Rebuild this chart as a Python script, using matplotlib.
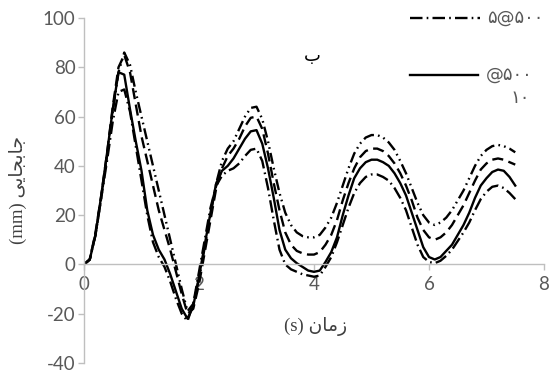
import matplotlib
matplotlib.use("Agg")
import matplotlib.pyplot as plt
from matplotlib.lines import Line2D

plt.rcParams['lines.scale_dashes'] = False

# time (s)
t = [i / 10 for i in range(76)]

# displacement (mm)
solid = [0, 2, 12, 28, 45, 63, 78, 77, 63, 50, 38, 22, 12, 6, 2, -4, -11, -18, -22, -17,
         -5, 8, 21, 33, 38, 40, 43, 47, 51, 54, 54.5, 49, 39, 27, 14, 6, 2.5, 0.5, -1, -2.5,
         -3, -2.5, 1, 5, 11, 20, 28, 35, 39, 41.5, 42.5, 42.5, 41.5, 40, 37, 33, 28, 21, 14, 7,
         3, 2, 3, 5.5, 8, 12, 16, 21, 27, 32, 35, 37.5, 38.5, 38, 35.5, 32]
dashed = [0, 2, 13, 28, 45, 64, 80, 85, 78, 65, 52, 42, 32, 22, 14, 6, -3, -12, -20, -18,
          -8, 5, 18, 31, 39, 44, 47, 51, 56, 59.5, 60, 55, 45, 33, 22, 13, 8, 5.5, 4.5, 4,
          4, 5, 8, 12, 18, 26, 33, 39, 43.5, 46, 47, 47, 46, 44, 41, 37, 32, 26, 19, 14,
          11, 10, 11, 13, 16, 20, 24, 29, 34, 38.5, 41, 42.5, 43, 42.5, 41.5, 40.5]
dashdotdot = [0, 2, 12, 27, 44, 62, 78, 86, 81, 70, 60, 50, 40, 30, 20, 10, 0, -10, -19, -16,
              -6, 7, 20, 33, 42, 47, 50, 55, 60, 63.5, 64, 59, 50, 39, 29, 21, 16, 13, 11.5, 11,
              11, 12, 15, 19, 25, 32, 39, 45, 49, 51.5, 52.5, 52.5, 51.5, 49.5, 46.5, 42, 37, 31, 25, 20,
              17, 16, 17, 19, 22, 26, 30, 35, 40, 44, 46.5, 48, 48.5, 48, 47, 45.5]
dashdot = [0, 2, 12, 27, 42, 58, 70, 71, 62, 48, 34, 20, 9, 3, -1, -7, -14, -20, -23, -16,
           -3, 10, 23, 32, 36, 38, 39, 41, 44, 46.5, 47, 42, 31, 18, 6, 0, -2, -3, -4, -4.5,
           -5, -4.5, -1, 3, 9, 16, 23, 29, 33, 35.5, 36.5, 36.5, 35.5, 34, 31, 27, 22, 15, 8, 3,
           1, 0.5, 1.5, 3.5, 6, 9.5, 13, 17, 22, 26.5, 29.5, 31.5, 32, 31, 29, 26.5]

legend_labels = ["۵@۵۰۰", "@۵۰۰", "۱۰"]
x_ticks = [0, 2, 4, 6, 8]
y_ticks = [-40, -20, 0, 20, 40, 60, 80, 100]

fig = plt.figure(figsize=(5.52, 3.72), dpi=100)
ax = fig.add_axes([84 / 552, 1 - 363 / 372, 460 / 552, 345 / 372])

for s in ["top", "right"]:
    ax.spines[s].set_visible(False)
ax.spines["bottom"].set_position(("data", 0))
ax.spines["left"].set_color("#bfbfbf")
ax.spines["bottom"].set_color("#bfbfbf")
ax.spines["left"].set_linewidth(1)
ax.spines["bottom"].set_linewidth(1)

lw = 1.7
ax.plot(t, dashdotdot, color="black", lw=lw, dashes=(8, 3, 1.2, 3, 1.2, 3))
ax.plot(t, dashed, color="black", lw=lw, dashes=(8, 4))
ax.plot(t, dashdot, color="black", lw=lw, dashes=(9, 3, 1.2, 3))
ax.plot(t, solid, color="black", lw=lw)

ax.set_xlim(0, 8)
ax.set_ylim(-40, 100)
ax.set_xticks(x_ticks)
ax.set_yticks(y_ticks)
ax.set_xticklabels([str(v) for v in x_ticks])
ax.set_yticklabels([str(v) for v in y_ticks])
ax.tick_params(axis="both", colors="#bfbfbf", length=4, width=1, direction="out",
               labelsize=13.5, labelcolor="#595959")
ax.tick_params(axis="x", pad=4)
ax.tick_params(axis="y", pad=2)
for lab in ax.get_xticklabels() + ax.get_yticklabels():
    lab.set_family("Lato")

# title
fig.text(312 / 552, 1 - 56 / 372, "ب", family="DejaVu Sans", fontsize=13,
         ha="center", va="center", color="black")

# axis titles (Persian, pre-shaped in visual order)
fig.text(316 / 552, 1 - 327 / 372, "(s) \uFEE5\uFE8E\uFEE3\uFEAF",
         family=["Liberation Serif", "DejaVu Sans"], fontsize=13.5, color="#404040",
         ha="center", va="center")
fig.text(18 / 552, 1 - 190 / 372, "(mm) \uFEF0\uFEF3\uFE8E\uFEA0\uFE91\uFE8E\uFE9F",
         family=["Liberation Serif", "DejaVu Sans"], fontsize=13.5, color="#404040",
         rotation=90, ha="center", va="center")

# legend, partly outside on the right as in the source
fig.add_artist(Line2D([410 / 552, 480 / 552], [1 - 18 / 372, 1 - 18 / 372],
                      color="black", lw=lw, dashes=(9, 3, 1.2, 3)))
fig.add_artist(Line2D([410 / 552, 478 / 552], [1 - 75 / 372, 1 - 75 / 372],
                      color="black", lw=lw))
fig.text(487 / 552, 1 - 18 / 372, legend_labels[0], family="DejaVu Sans", fontsize=13,
         color="#595959", ha="left", va="center")
fig.text(486 / 552, 1 - 75 / 372, legend_labels[1], family="DejaVu Sans", fontsize=13,
         color="#595959", ha="left", va="center")
fig.text(530 / 552, 1 - 98 / 372, legend_labels[2], family="DejaVu Sans", fontsize=13,
         color="#595959", ha="right", va="center")

fig.savefig("out.png", dpi=100)
